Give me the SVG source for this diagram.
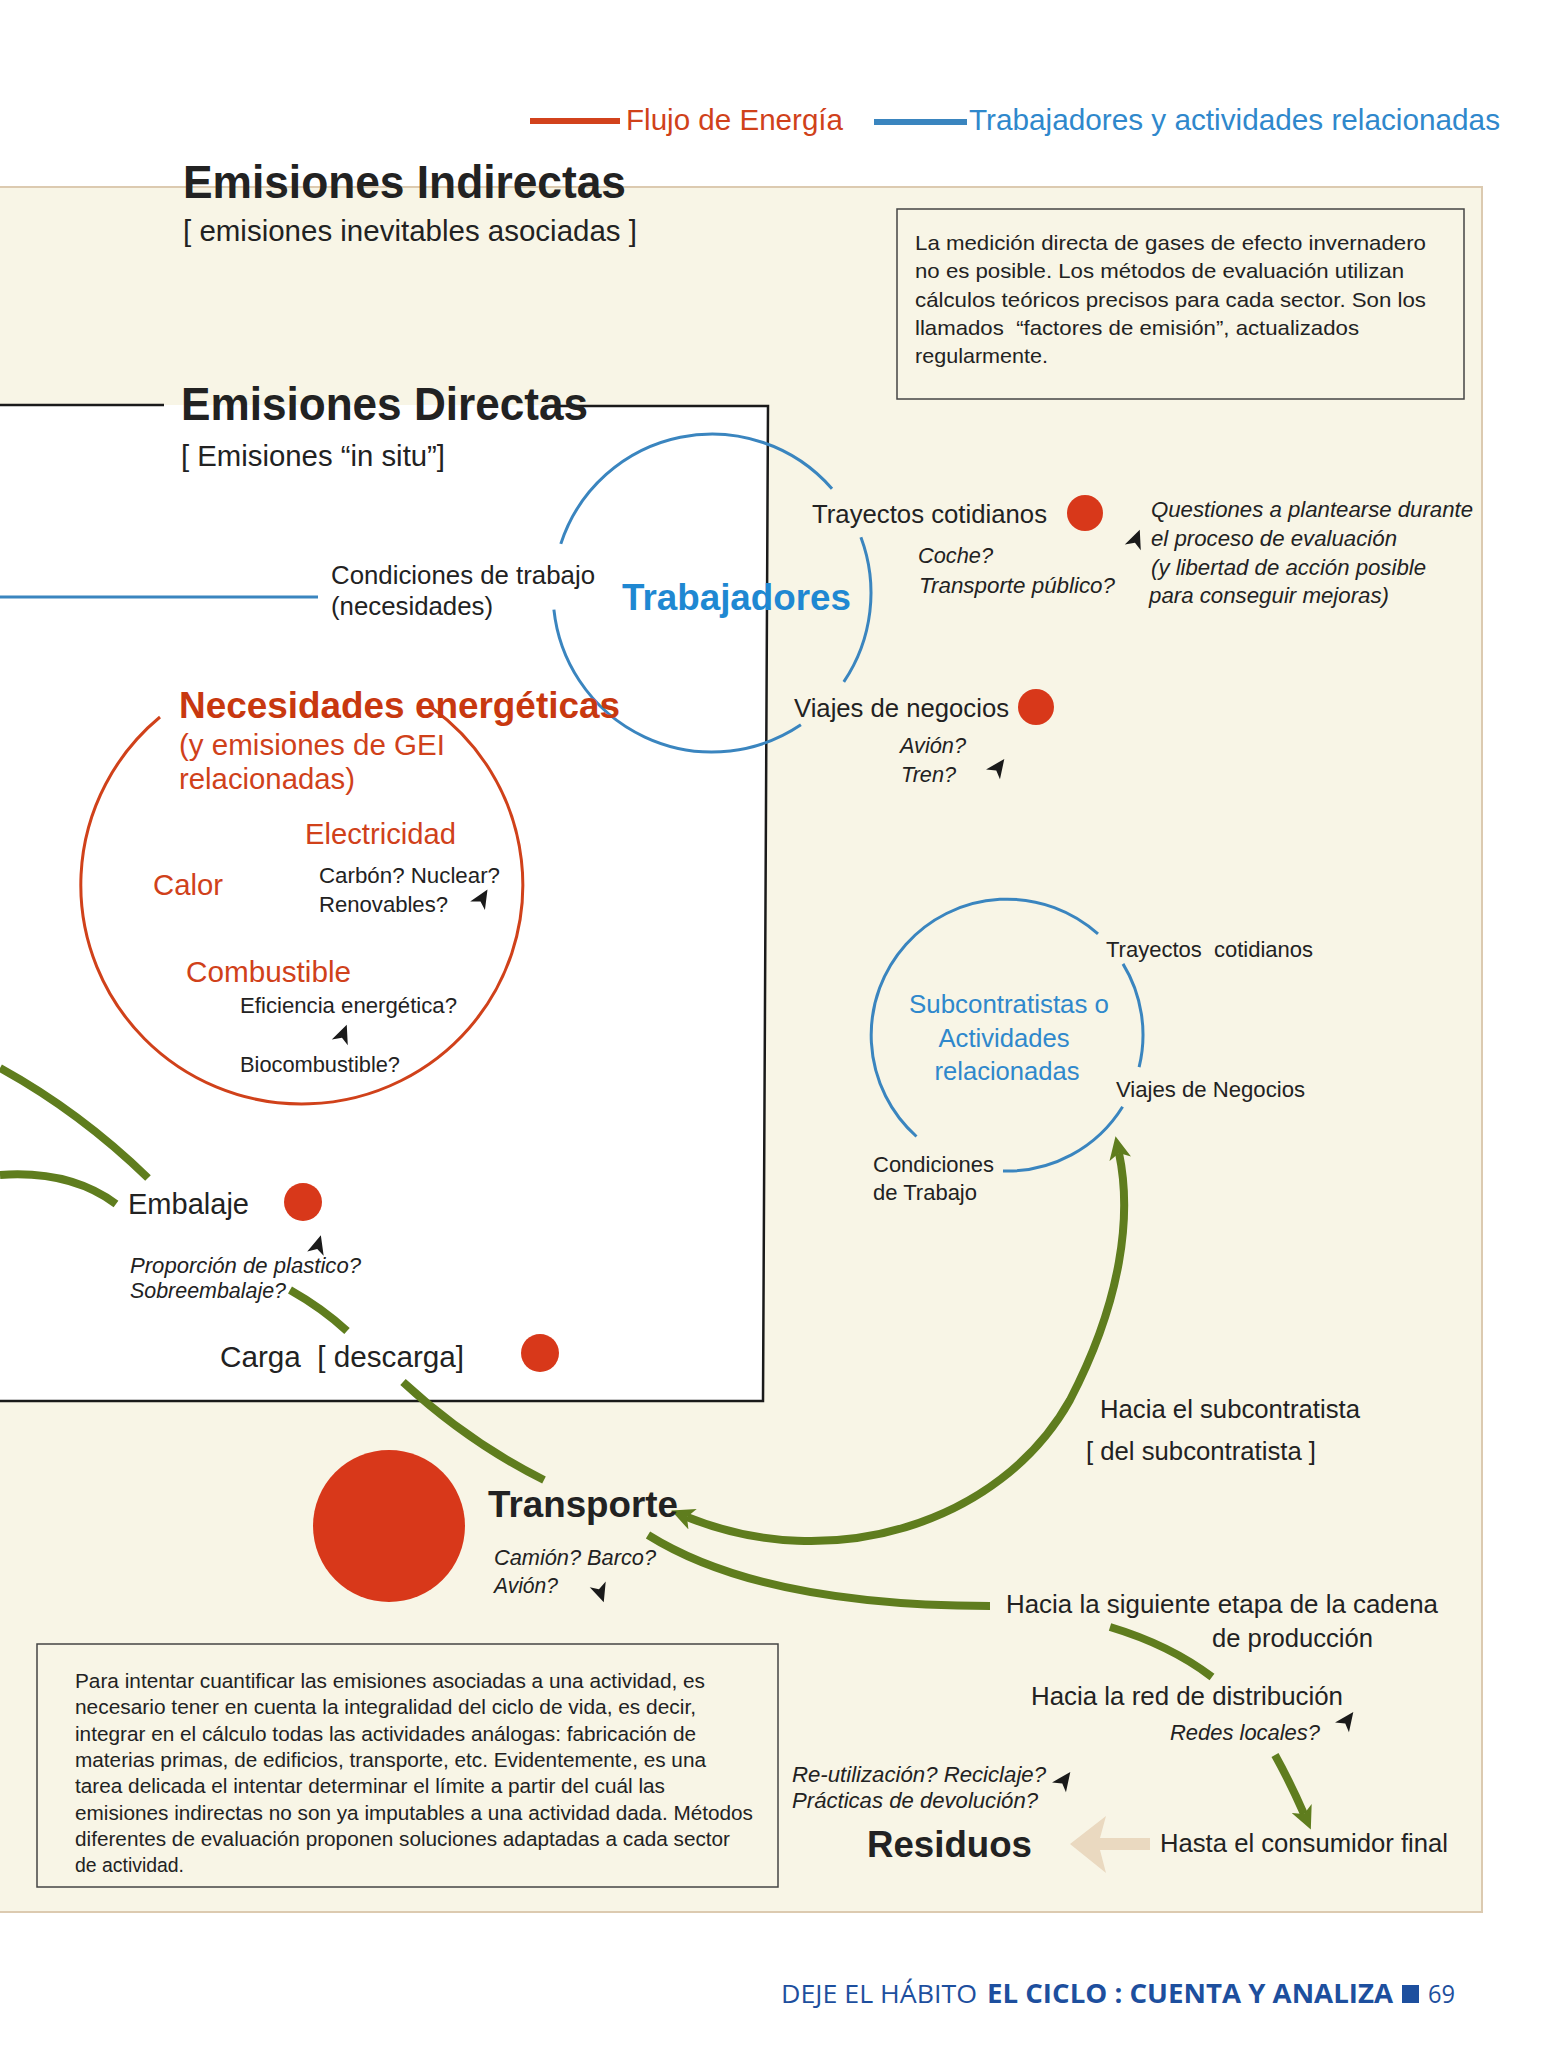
<svg xmlns="http://www.w3.org/2000/svg" width="1568" height="2053" viewBox="0 0 1568 2053">
<style>
text{font-family:"Liberation Sans",Arial,Helvetica,sans-serif;fill:#222}
.i{font-style:italic}
.b{font-weight:bold}
.red{fill:#d0411a}
.dred{fill:#c8380f}
.blue{fill:#2f88cc}
.grn{fill:none;stroke:#5f7d1e;stroke-width:8;stroke-linecap:butt}
.bl{fill:none;stroke:#3a85bf;stroke-width:3}
.dot{fill:#d8381a}
.dart{fill:#1a1a1a}
.foot{font-family:"Open Sans","Noto Sans","Liberation Sans",sans-serif;fill:#1d4f9e}
</style>
<defs>
<path id="dart" d="M0,-11 L8,8 L0,3 L-9,8 Z"/>
<marker id="ga" markerUnits="userSpaceOnUse" markerWidth="24" markerHeight="22" viewBox="0 0 24 22" refX="6" refY="11" orient="auto-start-reverse">
<path d="M0,0 L23,11 L0,22 L6,11 Z" fill="#5f7d1e"/>
</marker>
</defs>
<rect x="0" y="0" width="1568" height="2053" fill="#ffffff"/>
<rect x="-2" y="187" width="1484" height="1725" fill="#f8f5e6" stroke="#dccab0" stroke-width="2"/>

<g id="legend">
<line x1="530" y1="121" x2="620" y2="121" stroke="#d2421c" stroke-width="6"/>
<text x="626" y="130" font-size="29" textLength="217" lengthAdjust="spacingAndGlyphs" class="red">Flujo de Energía</text>
<line x1="874" y1="122" x2="967" y2="122" stroke="#3a85bf" stroke-width="6"/>
<text x="969" y="130" font-size="29" textLength="531" lengthAdjust="spacingAndGlyphs" class="blue">Trabajadores y actividades relacionadas</text>
</g>

<g id="indirectas">
<text x="183" y="198" font-size="47" class="b" textLength="443" lengthAdjust="spacingAndGlyphs">Emisiones Indirectas</text>
<text x="183" y="241" font-size="30" textLength="454" lengthAdjust="spacingAndGlyphs">[ emisiones inevitables asociadas ]</text>
</g>

<g id="nota-medicion">
<rect x="897" y="209" width="567" height="190" fill="none" stroke="#444" stroke-width="1.5"/>
<text x="915" y="250" font-size="21" textLength="511" lengthAdjust="spacingAndGlyphs">La medición directa de gases de efecto invernadero</text>
<text x="915" y="278" font-size="21" textLength="489" lengthAdjust="spacingAndGlyphs">no es posible. Los métodos de evaluación utilizan</text>
<text x="915" y="307" font-size="21" textLength="511" lengthAdjust="spacingAndGlyphs">cálculos teóricos precisos para cada sector. Son los</text>
<text x="915" y="335" font-size="21" textLength="444" lengthAdjust="spacingAndGlyphs" xml:space="preserve">llamados  “factores de emisión”, actualizados</text>
<text x="915" y="363" font-size="21" textLength="133" lengthAdjust="spacingAndGlyphs">regularmente.</text>
</g>

<g id="directas">
<polygon points="-2,405 768,405 763,1401 -2,1401" fill="#ffffff"/>
<path d="M0 405 H164 M560 406 H768 L763 1401 H0" fill="none" stroke="#1a1a1a" stroke-width="2.5"/>
<text x="181" y="420" font-size="47" class="b" textLength="407" lengthAdjust="spacingAndGlyphs">Emisiones Directas</text>
<text x="181" y="466" font-size="30" textLength="264" lengthAdjust="spacingAndGlyphs">[ Emisiones “in situ”]</text>
</g>

<g id="connectors">
<line x1="0" y1="597" x2="318" y2="597" class="bl"/>
<path class="grn" d="M0 1068 Q80 1112 148 1178"/>
<path class="grn" d="M0 1175 Q70 1170 116 1204"/>
<path class="grn" d="M290 1290 Q322 1308 347 1331"/>
<path class="grn" d="M403 1382 Q468 1442 544 1480"/>
<path class="grn" d="M687 1517 C830 1575 1000 1525 1070 1400 C1122 1300 1132 1215 1119 1153" marker-start="url(#ga)" marker-end="url(#ga)"/>
<path class="grn" d="M648 1535 C720 1580 830 1606 990 1606"/>
<path class="grn" d="M1110 1627 Q1170 1645 1212 1677"/>
<path class="grn" d="M1275 1755 Q1290 1782 1304 1814" marker-end="url(#ga)"/>
<polygon points="1070,1844 1106,1816 1100,1838 1150,1838 1150,1850 1100,1850 1106,1873" fill="#ead9c0"/>
</g>

<g id="trabajadores">
<path class="bl" d="M860.9 537.3 A159 159 0 0 1 843.8 681.9"/>
<path class="bl" d="M800.9 724.8 A159 159 0 0 1 553.9 609.6"/>
<path class="bl" d="M560.8 543.9 A159 159 0 0 1 832 488.7"/>
<text x="622" y="610" font-size="37" class="b blue" textLength="229" lengthAdjust="spacingAndGlyphs" style="fill:#1f88d2">Trabajadores</text>
<text x="331" y="584" font-size="26" textLength="264" lengthAdjust="spacingAndGlyphs">Condiciones de trabajo</text>
<text x="331" y="615" font-size="26" textLength="162" lengthAdjust="spacingAndGlyphs">(necesidades)</text>
</g>

<g id="trayectos">
<text x="812" y="523" font-size="26" textLength="235" lengthAdjust="spacingAndGlyphs">Trayectos cotidianos</text>
<circle cx="1085" cy="513" r="18" class="dot"/>
<text x="918" y="563" font-size="22" class="i" textLength="75" lengthAdjust="spacingAndGlyphs">Coche?</text>
<text x="919" y="593" font-size="22" class="i" textLength="196" lengthAdjust="spacingAndGlyphs">Transporte público?</text>
</g>

<g id="questiones">
<use href="#dart" class="dart" transform="translate(1136 540) rotate(20)"/>
<text x="1151" y="517" font-size="22" class="i" textLength="322" lengthAdjust="spacingAndGlyphs">Questiones a plantearse durante</text>
<text x="1151" y="546" font-size="22" class="i" textLength="246" lengthAdjust="spacingAndGlyphs">el proceso de evaluación</text>
<text x="1151" y="575" font-size="22" class="i" textLength="275" lengthAdjust="spacingAndGlyphs">(y libertad de acción posible</text>
<text x="1149" y="603" font-size="22" class="i" textLength="240" lengthAdjust="spacingAndGlyphs">para conseguir mejoras)</text>
</g>

<g id="viajes">
<text x="794" y="717" font-size="26" textLength="215" lengthAdjust="spacingAndGlyphs">Viajes de negocios</text>
<circle cx="1036" cy="707" r="18" class="dot"/>
<text x="900" y="753" font-size="22" class="i" textLength="66" lengthAdjust="spacingAndGlyphs">Avión?</text>
<text x="901" y="782" font-size="22" class="i" textLength="55" lengthAdjust="spacingAndGlyphs">Tren?</text>
<use href="#dart" class="dart" transform="translate(998 768) rotate(35)"/>
</g>

<g id="necesidades">
<path d="M432 708 A221 219 0 1 1 160 717" fill="none" stroke="#d0411a" stroke-width="3"/>
<text x="179" y="718" font-size="37" class="b dred" textLength="441" lengthAdjust="spacingAndGlyphs">Necesidades energéticas</text>
<text x="179" y="755" font-size="29" class="red" textLength="266" lengthAdjust="spacingAndGlyphs">(y emisiones de GEI</text>
<text x="179" y="789" font-size="29" class="red" textLength="176" lengthAdjust="spacingAndGlyphs">relacionadas)</text>
<text x="305" y="844" font-size="29" class="red" textLength="151" lengthAdjust="spacingAndGlyphs">Electricidad</text>
<text x="153" y="895" font-size="29" class="red" textLength="70" lengthAdjust="spacingAndGlyphs">Calor</text>
<text x="319" y="883" font-size="22.5" textLength="181" lengthAdjust="spacingAndGlyphs">Carbón? Nuclear?</text>
<text x="319" y="912" font-size="22.5" textLength="129" lengthAdjust="spacingAndGlyphs">Renovables?</text>
<use href="#dart" class="dart" transform="translate(482 899) rotate(30)"/>
<text x="186" y="982" font-size="29" class="red" textLength="165" lengthAdjust="spacingAndGlyphs">Combustible</text>
<text x="240" y="1013" font-size="22.5" textLength="217" lengthAdjust="spacingAndGlyphs">Eficiencia energética?</text>
<use href="#dart" class="dart" transform="translate(343 1035) rotate(20)"/>
<text x="240" y="1072" font-size="22.5" textLength="160" lengthAdjust="spacingAndGlyphs">Biocombustible?</text>
</g>

<g id="embalaje">
<text x="128" y="1214" font-size="29" textLength="121" lengthAdjust="spacingAndGlyphs">Embalaje</text>
<circle cx="303" cy="1202" r="19" class="dot"/>
<use href="#dart" class="dart" transform="translate(318 1246) rotate(15)"/>
<text x="130" y="1273" font-size="22" class="i" textLength="231" lengthAdjust="spacingAndGlyphs">Proporción de plastico?</text>
<text x="130" y="1298" font-size="22" class="i" textLength="156" lengthAdjust="spacingAndGlyphs">Sobreembalaje?</text>
</g>

<g id="carga">
<text x="220" y="1367" font-size="29" textLength="244" lengthAdjust="spacingAndGlyphs" xml:space="preserve">Carga  [ descarga]</text>
<circle cx="540" cy="1353" r="19" class="dot"/>
</g>

<g id="subcontratistas">
<path class="bl" d="M1123 963.9 A136 136 0 0 1 1139.1 1067.2"/>
<path class="bl" d="M1122.6 1106.7 A136 136 0 0 1 1003 1171"/>
<path class="bl" d="M916.5 1136.5 A136 136 0 1 1 1098 933.9"/>
<text x="1009" y="1013" font-size="26" class="blue" text-anchor="middle" textLength="200" lengthAdjust="spacingAndGlyphs">Subcontratistas o</text>
<text x="1004" y="1047" font-size="26" class="blue" text-anchor="middle" textLength="131" lengthAdjust="spacingAndGlyphs">Actividades</text>
<text x="1007" y="1080" font-size="26" class="blue" text-anchor="middle" textLength="145" lengthAdjust="spacingAndGlyphs">relacionadas</text>
<text x="1106" y="957" font-size="22" textLength="207" lengthAdjust="spacingAndGlyphs" xml:space="preserve">Trayectos  cotidianos</text>
<text x="1116" y="1097" font-size="22" textLength="189" lengthAdjust="spacingAndGlyphs">Viajes de Negocios</text>
<text x="873" y="1172" font-size="22" textLength="121" lengthAdjust="spacingAndGlyphs">Condiciones</text>
<text x="873" y="1200" font-size="22" textLength="104" lengthAdjust="spacingAndGlyphs">de Trabajo</text>
</g>

<g id="hacia-subcontratista">
<text x="1100" y="1418" font-size="26" textLength="260" lengthAdjust="spacingAndGlyphs">Hacia el subcontratista</text>
<text x="1086" y="1460" font-size="26" textLength="230" lengthAdjust="spacingAndGlyphs">[ del subcontratista ]</text>
</g>

<g id="transporte">
<circle cx="389" cy="1526" r="76" class="dot"/>
<text x="488" y="1517" font-size="37" class="b" textLength="190" lengthAdjust="spacingAndGlyphs">Transporte</text>
<text x="494" y="1565" font-size="22" class="i" textLength="162" lengthAdjust="spacingAndGlyphs">Camión? Barco?</text>
<text x="494" y="1593" font-size="22" class="i" textLength="64" lengthAdjust="spacingAndGlyphs">Avión?</text>
<use href="#dart" class="dart" transform="translate(600 1592) rotate(160)"/>
</g>

<g id="siguiente-etapa">
<text x="1006" y="1613" font-size="26" textLength="432" lengthAdjust="spacingAndGlyphs">Hacia la siguiente etapa de la cadena</text>
<text x="1212" y="1647" font-size="26" textLength="161" lengthAdjust="spacingAndGlyphs">de producción</text>
</g>

<g id="distribucion">
<text x="1031" y="1705" font-size="26" textLength="312" lengthAdjust="spacingAndGlyphs">Hacia la red de distribución</text>
<text x="1170" y="1740" font-size="22" class="i" textLength="150" lengthAdjust="spacingAndGlyphs">Redes locales?</text>
<use href="#dart" class="dart" transform="translate(1347 1721) rotate(35)"/>
</g>

<g id="consumidor">
<text x="1160" y="1852" font-size="26" textLength="288" lengthAdjust="spacingAndGlyphs">Hasta el consumidor final</text>
</g>

<g id="residuos">
<text x="792" y="1782" font-size="22" class="i" textLength="254" lengthAdjust="spacingAndGlyphs">Re-utilización? Reciclaje?</text>
<use href="#dart" class="dart" transform="translate(1064 1781) rotate(35)"/>
<text x="792" y="1808" font-size="22" class="i" textLength="246" lengthAdjust="spacingAndGlyphs">Prácticas de devolución?</text>
<text x="867" y="1857" font-size="37" class="b" textLength="165" lengthAdjust="spacingAndGlyphs">Residuos</text>
</g>

<g id="nota-ciclo">
<rect x="37" y="1644" width="741" height="243" fill="none" stroke="#444" stroke-width="1.5"/>
<text x="75" y="1688" font-size="20.5" textLength="630" lengthAdjust="spacingAndGlyphs">Para intentar cuantificar las emisiones asociadas a una actividad, es</text>
<text x="75" y="1714" font-size="20.5" textLength="621" lengthAdjust="spacingAndGlyphs">necesario tener en cuenta la integralidad del ciclo de vida, es decir,</text>
<text x="75" y="1741" font-size="20.5" textLength="621" lengthAdjust="spacingAndGlyphs">integrar en el cálculo todas las actividades análogas: fabricación de</text>
<text x="75" y="1767" font-size="20.5" textLength="631" lengthAdjust="spacingAndGlyphs">materias primas, de edificios, transporte, etc. Evidentemente, es una</text>
<text x="75" y="1793" font-size="20.5" textLength="590" lengthAdjust="spacingAndGlyphs">tarea delicada el intentar determinar el límite a partir del cuál las</text>
<text x="75" y="1820" font-size="20.5" textLength="678" lengthAdjust="spacingAndGlyphs">emisiones indirectas no son ya imputables a una actividad dada. Métodos</text>
<text x="75" y="1846" font-size="20.5" textLength="655" lengthAdjust="spacingAndGlyphs">diferentes de evaluación proponen soluciones adaptadas a cada sector</text>
<text x="75" y="1872" font-size="20.5" textLength="109" lengthAdjust="spacingAndGlyphs">de actividad.</text>
</g>

<g id="footer">
<text x="781" y="2003" font-size="26" class="foot" textLength="196" lengthAdjust="spacingAndGlyphs">DEJE EL HÁBITO</text>
<text x="987" y="2003" font-size="26" class="foot" font-weight="bold" textLength="406" lengthAdjust="spacingAndGlyphs">EL CICLO : CUENTA Y ANALIZA</text>
<rect x="1402" y="1985" width="17" height="18" fill="#1d4f9e"/>
<text x="1428" y="2003" font-size="26" class="foot" textLength="27" lengthAdjust="spacingAndGlyphs">69</text>
</g>
</svg>
